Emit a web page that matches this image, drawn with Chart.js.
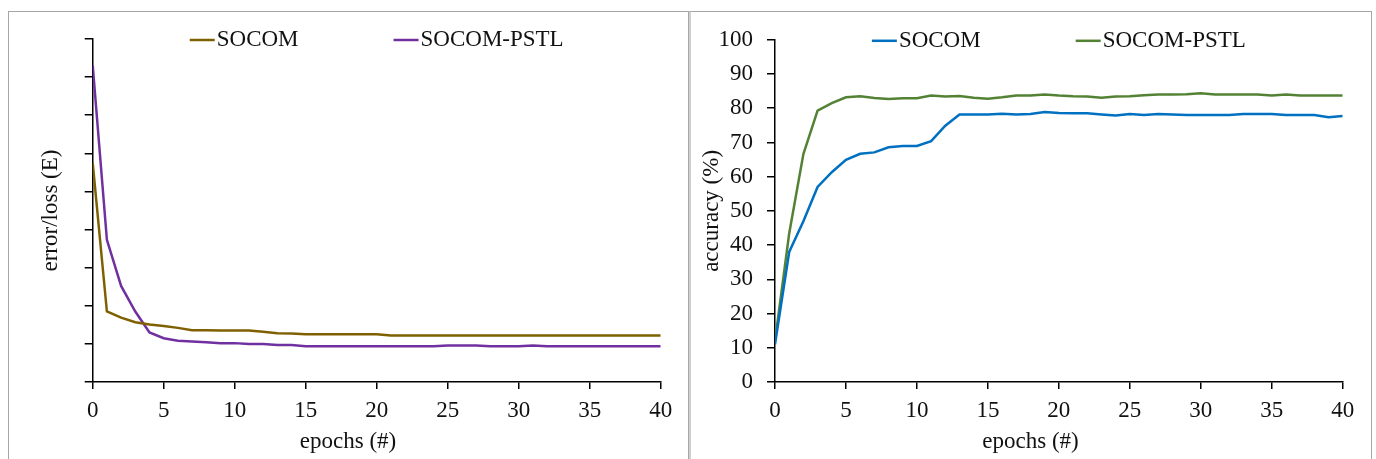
<!DOCTYPE html>
<html>
<head>
<meta charset="utf-8">
<script src="https://cdn.jsdelivr.net/npm/chart.js@4.4.0/dist/chart.umd.min.js"></script>
<style>
  html, body { margin: 0; padding: 0; background: #fff; }
  body { width: 1376px; height: 459px; position: relative; overflow: hidden; }
  .panel { position: absolute; top: 11px; height: 470px; box-sizing: border-box; }
  #panelL { left: 8px; width: 681px; border: 1px solid #a6a6a6; }
  #panelR { left: 689px; width: 683px; border: 1px solid #a6a6a6; border-left: 2px solid #d0d0d0; }
  canvas { position: absolute; top: 12px; }
  #lossChart { left: 9px; }
  #accChart { left: 691px; }
</style>
</head>
<body>
<div class="panel" id="panelL"></div>
<div class="panel" id="panelR"></div>
<canvas id="lossChart" width="679" height="447" style="width:679px;height:447px"></canvas>
<canvas id="accChart" width="679" height="447" style="width:679px;height:447px"></canvas>
<script>
// -------------------------
// DATA
// -------------------------
const epochs = [0, 1, 2, 3, 4, 5, 6, 7, 8, 9, 10, 11, 12, 13, 14, 15, 16, 17, 18, 19, 20,
  21, 22, 23, 24, 25, 26, 27, 28, 29, 30, 31, 32, 33, 34, 35, 36, 37, 38, 39, 40];

const lossSocom = [5.75, 1.85, 1.69, 1.57, 1.51, 1.47, 1.42, 1.36, 1.36, 1.35, 1.35,
  1.35, 1.32, 1.28, 1.27, 1.25, 1.25, 1.25, 1.25, 1.25, 1.25,
  1.22, 1.22, 1.22, 1.22, 1.22, 1.22, 1.22, 1.22, 1.22, 1.22,
  1.22, 1.22, 1.22, 1.22, 1.22, 1.22, 1.22, 1.22, 1.22, 1.22];

const lossPstl = [8.31, 3.73, 2.52, 1.85, 1.30, 1.15, 1.08, 1.06, 1.04, 1.02, 1.02,
  1.00, 1.00, 0.97, 0.97, 0.94, 0.94, 0.94, 0.94, 0.94, 0.94,
  0.94, 0.94, 0.94, 0.94, 0.96, 0.96, 0.96, 0.94, 0.94, 0.94,
  0.96, 0.94, 0.94, 0.94, 0.94, 0.94, 0.94, 0.94, 0.94, 0.94];

const accSocom = [11, 38, 47, 57, 61.3, 64.9, 66.7, 67.1, 68.6, 69.0, 69.0,
  70.4, 74.9, 78.2, 78.2, 78.2, 78.4, 78.2, 78.3, 78.9, 78.6,
  78.5, 78.5, 78.2, 77.9, 78.3, 78.0, 78.3, 78.2, 78.0, 78.0,
  78.0, 78.0, 78.3, 78.3, 78.3, 78.0, 78.0, 78.0, 77.4, 77.7];

const accPstl = [12, 43.4, 66.6, 79.3, 81.5, 83.2, 83.5, 83.0, 82.7, 82.9, 82.9,
  83.7, 83.4, 83.6, 83.1, 82.8, 83.2, 83.7, 83.7, 84.0, 83.7,
  83.5, 83.4, 83.1, 83.4, 83.5, 83.8, 84.0, 84.0, 84.1, 84.4,
  84.0, 84.0, 84.0, 84.0, 83.7, 84.0, 83.7, 83.7, 83.7, 83.7];

const seriesNames = ["SOCOM", "SOCOM-PSTL"];

const FONT = { family: "'Liberation Serif', 'Times New Roman', serif", size: 23 };
const TEXT = "#111";

function points(values) {
  return values.map((v, i) => ({ x: epochs[i], y: v }));
}

// -------------------------
// LEGEND (line sample + text, centred over the plot)
// -------------------------
const lineLegend = {
  id: "lineLegend",
  afterDraw(chart) {
    const ctx = chart.ctx;
    const area = chart.chartArea;
    const sets = chart.data.datasets;
    const sample = 25, textGap = 2, itemGap = 95;

    ctx.save();
    ctx.font = FONT.size + "px " + FONT.family;
    ctx.textBaseline = "middle";
    ctx.textAlign = "left";

    const widths = sets.map(ds => ctx.measureText(ds.label).width);
    let total = itemGap * (sets.length - 1);
    widths.forEach(w => { total += sample + textGap + w; });

    let x = (area.left + area.right) / 2 - total / 2;
    const y = area.top + 1;

    sets.forEach((ds, i) => {
      ctx.strokeStyle = ds.borderColor;
      ctx.lineWidth = ds.borderWidth;
      ctx.beginPath();
      ctx.moveTo(x, y);
      ctx.lineTo(x + sample, y);
      ctx.stroke();
      ctx.fillStyle = TEXT;
      ctx.fillText(ds.label, x + sample + textGap, y);
      x += sample + textGap + widths[i] + itemGap;
    });
    ctx.restore();
  }
};

// -------------------------
// CHART BUILDER
// -------------------------
function axisLines(tickLength) {
  return {
    grid: { drawOnChartArea: false, drawTicks: true, tickLength: tickLength, color: "#000", lineWidth: 1.5 },
    border: { display: true, color: "#000", width: 1.5 }
  };
}

function buildChart(id, cfg) {
  const ctx = document.getElementById(id).getContext("2d");

  return new Chart(ctx, {
    type: "line",
    data: {
      datasets: cfg.series.map((s, i) => ({
        label: seriesNames[i],
        data: points(s),
        borderColor: cfg.colors[i],
        borderWidth: 2.5,
        pointRadius: 0,
        fill: false,
        tension: 0
      }))
    },
    options: {
      responsive: false,
      animation: false,
      events: [],
      layout: { padding: cfg.padding },
      plugins: {
        legend: { display: false },
        tooltip: { enabled: false },
        title: {
          display: true,
          position: "bottom",
          text: "epochs (#)",
          color: TEXT,
          font: { family: FONT.family, size: FONT.size, weight: "normal" },
          padding: { top: 1, bottom: 0 }
        }
      },
      scales: {
        x: Object.assign({
          type: "linear",
          min: 0,
          max: 40,
          ticks: { stepSize: 5, color: TEXT, font: FONT, padding: 8, maxRotation: 0, autoSkip: false },
          afterFit: s => { s.height = 45; }
        }, axisLines(7)),
        y: Object.assign({
          min: cfg.yMin,
          max: cfg.yMax,
          ticks: { stepSize: cfg.yStep, display: cfg.yLabels, color: TEXT, font: FONT, padding: 14 },
          title: {
            display: true,
            text: cfg.yTitle,
            color: TEXT,
            font: FONT,
            padding: { top: cfg.yTitlePad }
          },
          afterFit: s => { s.width = cfg.yWidth; }
        }, axisLines(8))
      }
    },
    plugins: [lineLegend]
  });
}

// -------------------------
// START
// -------------------------
buildChart("lossChart", {
  series: [lossSocom, lossPstl],
  colors: ["#7f6000", "#7030a0"],
  yMin: 0, yMax: 9, yStep: 1, yLabels: false,
  yTitle: "error/loss (E)",
  yTitlePad: 1.4,
  yWidth: 57.4,
  padding: { left: 26.3, right: 27.3, top: 27, bottom: 3.4 }
});

buildChart("accChart", {
  series: [accSocom, accPstl],
  colors: ["#0070c0", "#548235"],
  yMin: 0, yMax: 100, yStep: 10, yLabels: true,
  yTitle: "accuracy (%)",
  yTitlePad: -20.1,
  yWidth: 56.7,
  padding: { left: 27.3, right: 27.3, top: 27, bottom: 3.4 }
});
</script>
</body>
</html>
